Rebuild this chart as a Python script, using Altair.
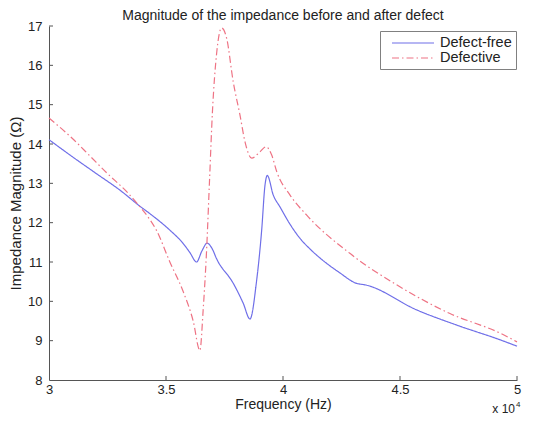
import altair as alt
import pandas as pd

# ---- data ----
series_names = ["Defect-free", "Defective"]

freq_free = [30000, 31036, 32041, 33047, 33881, 34309, 35165, 35734, 36021, 36307,
             36534, 36761, 36962, 37163, 37873, 38301, 38588, 38875, 39089, 39230,
             39328, 39585, 39872, 40300, 40728, 41156, 41584, 42011, 42439, 43081,
             43582, 45721, 47500, 49285, 50000]
imp_free = [14.11, 13.66, 13.24, 12.82, 12.42, 12.23, 11.81, 11.47, 11.24, 11.00,
            11.28, 11.48, 11.35, 11.08, 10.46, 9.95, 9.55, 10.54, 11.81, 12.95,
            13.20, 12.70, 12.40, 11.96, 11.60, 11.33, 11.10, 10.90, 10.72, 10.47,
            10.41, 9.78, 9.38, 9.02, 8.86]

freq_def = [30000, 31036, 31742, 32495, 33299, 33796, 34309, 34596, 35165, 35734,
            36162, 36449, 36590, 36735, 36855, 36983, 37163, 37377, 37591, 37873,
            38160, 38374, 38661, 39016, 39273, 39517, 39731, 40300, 41014, 42855,
            44995, 47134, 49285, 50000]
imp_def = [14.66, 14.12, 13.70, 13.25, 12.80, 12.47, 12.08, 11.80, 11.00, 10.25,
           9.50, 8.75, 9.80, 11.30, 13.00, 14.80, 16.30, 16.95, 16.69, 15.58,
           14.74, 14.06, 13.64, 13.80, 13.93, 13.72, 13.30, 12.70, 12.19, 11.22,
           10.37, 9.69, 9.19, 8.97]

x_ticks = [30000, 35000, 40000, 45000, 50000]
y_ticks = [8, 9, 10, 11, 12, 13, 14, 15, 16, 17]

colors = ["#6f6fe8", "#ee7384"]
dashes = [[1, 0], [7, 3, 1.5, 3]]

df = pd.concat([
    pd.DataFrame({"freq": freq_free, "imp": imp_free, "series": series_names[0]}),
    pd.DataFrame({"freq": freq_def, "imp": imp_def, "series": series_names[1]}),
])

W, H = 468, 354
FONT = "Liberation Sans"
AX = "#555555"

x_scale = alt.Scale(domain=[30000, 50000], nice=False, zero=False)
y_scale = alt.Scale(domain=[8, 17], nice=False, zero=False)

x_axis = alt.Axis(values=x_ticks, labelExpr="datum.value / 10000", title="Frequency (Hz)")
y_axis = alt.Axis(values=y_ticks, title="Impedance Magnitude (Ω)", titleFontSize=15)

legend = alt.Legend(
    title=None, orient="none", legendX=331, legendY=5,
    strokeColor="#808080", fillColor="white", padding=4,
    symbolType="M0,0H6", symbolSize=196, symbolStrokeWidth=1.2,
    labelFont=FONT, labelFontSize=14.5, labelColor="#222222",
    rowPadding=0, labelOffset=40,
)

lines = alt.Chart(df).mark_line(strokeWidth=1.2, interpolate="monotone").encode(
    x=alt.X("freq:Q", scale=x_scale, axis=x_axis),
    y=alt.Y("imp:Q", scale=y_scale, axis=y_axis),
    color=alt.Color("series:N", scale=alt.Scale(domain=series_names, range=colors), legend=legend),
    strokeDash=alt.StrokeDash("series:N", scale=alt.Scale(domain=series_names, range=dashes), legend=legend),
)

yt = alt.Chart(pd.DataFrame({"imp": y_ticks[1:]})).mark_rule(color=AX, strokeWidth=1).encode(
    y=alt.Y("imp:Q", scale=y_scale, axis=y_axis), x=alt.value(0), x2=alt.value(4))
xt = alt.Chart(pd.DataFrame({"freq": x_ticks[1:]})).mark_rule(color=AX, strokeWidth=1).encode(
    x=alt.X("freq:Q", scale=x_scale, axis=x_axis), y=alt.value(H), y2=alt.value(H - 4))

exp_df = pd.DataFrame({"freq": [50000], "t": ["x 10"], "s": ["4"]})
exp_main = alt.Chart(exp_df).mark_text(font=FONT, fontSize=12, color="#222222", align="right",
                                       baseline="alphabetic", dx=-2, dy=33).encode(
    x=alt.X("freq:Q", scale=x_scale, axis=x_axis), y=alt.value(H), text="t:N")
exp_sup = alt.Chart(exp_df).mark_text(font=FONT, fontSize=8, color="#222222", align="left",
                                      baseline="alphabetic", dx=-1, dy=27).encode(
    x=alt.X("freq:Q", scale=x_scale, axis=x_axis), y=alt.value(H), text="s:N")

chart = alt.layer(lines, yt, xt, exp_main, exp_sup).properties(
    width=W, height=H,
    background="white",
    title=alt.TitleParams("Magnitude of the impedance before and after defect",
                          font=FONT, fontSize=14, fontWeight="normal", color="#222222",
                          anchor="middle", offset=-3),
    autosize=alt.AutoSizeParams(type="none"),
    padding={"left": 41, "top": 18, "right": 8, "bottom": 35},
).configure_view(stroke=None).configure_axis(
    grid=False, ticks=False, domainColor=AX, labelFont=FONT, labelFontSize=13,
    labelColor="#222222", titleFont=FONT, titleFontSize=14, titleFontWeight="normal",
    titleColor="#222222", labelFlush=False,
).configure_axisX(labelPadding=3, titlePadding=1).configure_axisY(labelPadding=7, titlePadding=4)

chart.save("out.html", embed_options={"renderer": "svg", "actions": False})
